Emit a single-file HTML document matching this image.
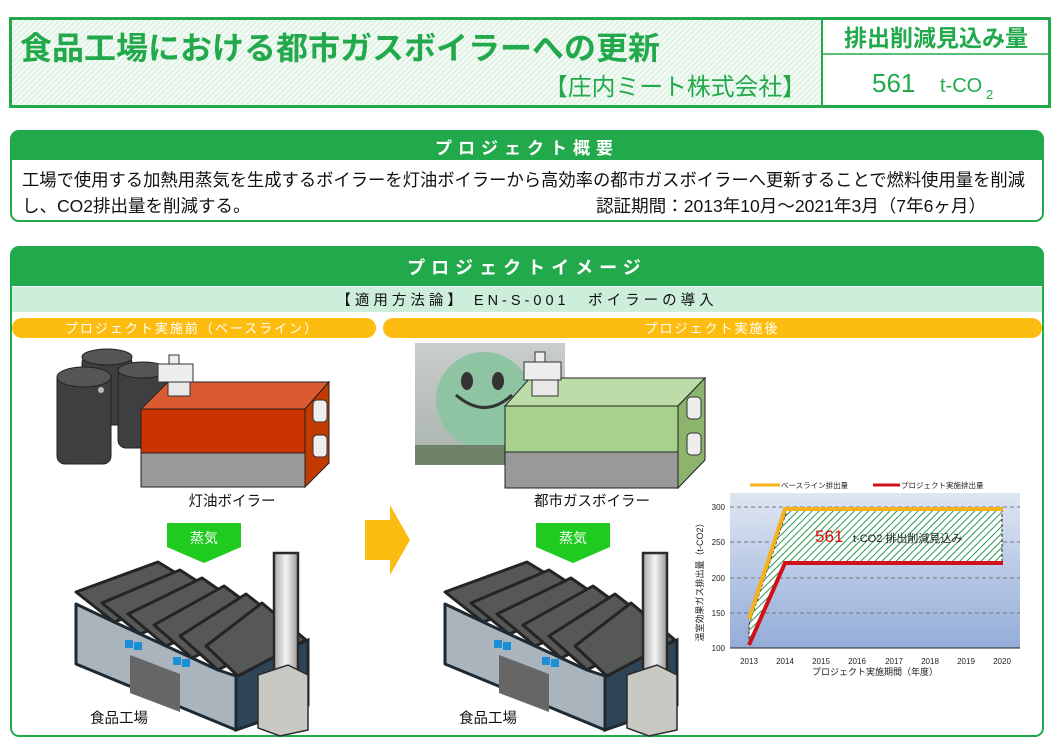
<!DOCTYPE html>
<html><head><meta charset="utf-8"><style>
body{margin:0;width:1058px;height:755px;background:#fff;font-family:"Liberation Sans","Noto Sans CJK JP",sans-serif;position:relative;overflow:hidden}
.a{position:absolute}
</style></head><body>
<svg class="a" style="left:0;top:0" width="1058" height="755" xmlns="http://www.w3.org/2000/svg" font-family="Liberation Sans, Noto Sans CJK JP, sans-serif">
<defs>
<pattern id="h1" width="4" height="4" patternUnits="userSpaceOnUse" patternTransform="rotate(45)"><rect width="4" height="4" fill="#f2faf4"/><line x1="0" y1="0" x2="0" y2="4" stroke="#c8e6cf" stroke-width="1.4"/></pattern>
<pattern id="h2" width="5" height="5" patternUnits="userSpaceOnUse" patternTransform="rotate(45)"><rect width="5" height="5" fill="#ffffff"/><line x1="0" y1="0" x2="0" y2="5" stroke="#2a9a50" stroke-width="2"/></pattern>
<linearGradient id="pl" x1="0" y1="0" x2="0" y2="1"><stop offset="0" stop-color="#dfe6f2"/><stop offset="1" stop-color="#93acd8"/></linearGradient>
<linearGradient id="ph" x1="0" y1="0" x2="0" y2="1"><stop offset="0" stop-color="#c9cdcc"/><stop offset="1" stop-color="#a9b3ad"/></linearGradient>
<linearGradient id="ch" x1="0" x2="1"><stop offset="0" stop-color="#aaa"/><stop offset=".5" stop-color="#f4f4f4"/><stop offset="1" stop-color="#999"/></linearGradient>
<g id="fac">
<polygon points="236,672 308,640 308,705 236,730" fill="#2f4555" stroke="#1e2a33" stroke-width="3"/>
<g fill="#555857" stroke="#242424" stroke-width="3" stroke-linejoin="round">
<polygon points="76,592 158,562 204,590 114,622"/>
<polygon points="102,603 180,570 226,600 140,634"/>
<polygon points="128,614 202,578 248,610 166,646"/>
<polygon points="154,625 224,586 270,620 192,658"/>
<polygon points="180,636 246,594 292,630 218,670"/>
<polygon points="206,646 262,603 306,640 238,676"/>
</g>
<polygon points="76,604 114,622 140,634 166,646 192,658 218,670 236,676 236,730 76,664" fill="#a9b4bd" stroke="#1e2a33" stroke-width="3" stroke-linejoin="round"/>
<rect x="125" y="640" width="8" height="8" fill="#1b8ed8"/><rect x="134" y="642" width="8" height="8" fill="#1b8ed8"/>
<rect x="173" y="657" width="8" height="8" fill="#1b8ed8"/><rect x="182" y="659" width="8" height="8" fill="#1b8ed8"/>
<polygon points="130,655 180,674 180,712 130,693" fill="#666"/>
<rect x="274" y="553" width="24" height="130" fill="url(#ch)" stroke="#2b2b2b" stroke-width="2.5"/>
<polygon points="258,675 288,665 308,675 308,730 280,736 258,728" fill="#c9c9c3" stroke="#2b2b2b" stroke-width="1.5"/>
</g>
</defs>
<!-- header -->
<rect x="10.5" y="18.5" width="1039" height="88" fill="url(#h1)"/>
<rect x="822" y="18" width="227" height="88" fill="#fff"/>
<line x1="822" y1="18" x2="822" y2="106" stroke="#22a94b" stroke-width="2"/>
<line x1="822" y1="54" x2="1049" y2="54" stroke="#22a94b" stroke-width="1.5"/>
<rect x="10.5" y="18.5" width="1039" height="88" fill="none" stroke="#22a94b" stroke-width="3"/>
<text x="20" y="59" font-size="31.5" font-weight="bold" fill="#22a94b" textLength="640" lengthAdjust="spacingAndGlyphs">食品工場における都市ガスボイラーへの更新</text>
<text x="544" y="95" font-size="24" fill="#22a94b" textLength="262" lengthAdjust="spacingAndGlyphs">【庄内ミート株式会社】</text>
<text x="936" y="46" font-size="23" font-weight="bold" fill="#22a94b" text-anchor="middle">排出削減見込み量</text>
<text x="872" y="92" font-size="26" fill="#22a94b">561</text><text x="940" y="92" font-size="20" fill="#22a94b">t-CO</text><text x="986" y="99" font-size="13" fill="#22a94b">2</text>
<!-- overview -->
<rect x="11" y="131" width="1032" height="90" rx="8" fill="#fff" stroke="#22a94b" stroke-width="2"/>
<path d="M11,160 V139 a8,8 0 0 1 8,-8 H1035 a8,8 0 0 1 8,8 V160 Z" fill="#22a94b"/>
<text x="527" y="154" font-size="17" font-weight="bold" fill="#fff" text-anchor="middle" letter-spacing="6">プロジェクト概要</text>
<text x="22" y="186" font-size="17.5" fill="#111" textLength="1003" lengthAdjust="spacingAndGlyphs">工場で使用する加熱用蒸気を生成するボイラーを灯油ボイラーから高効率の都市ガスボイラーへ更新することで燃料使用量を削減</text>
<text x="22" y="212" font-size="17.5" fill="#111">し、CO2排出量を削減する。</text>
<text x="596" y="212" font-size="17.5" fill="#111" textLength="390" lengthAdjust="spacingAndGlyphs">認証期間：2013年10月～2021年3月（7年6ヶ月）</text>
<!-- image box -->
<rect x="11" y="247" width="1032" height="489" rx="8" fill="#fff" stroke="#22a94b" stroke-width="2"/>
<path d="M11,286 V255 a8,8 0 0 1 8,-8 H1035 a8,8 0 0 1 8,8 V286 Z" fill="#22a94b"/>
<text x="527" y="274" font-size="18" font-weight="bold" fill="#fff" text-anchor="middle" letter-spacing="6">プロジェクトイメージ</text>
<rect x="12" y="287" width="1030" height="25" fill="#cdeeda"/>
<text x="527" y="305" font-size="14.5" fill="#111" text-anchor="middle" letter-spacing="4">【適用方法論】 EN-S-001　ボイラーの導入</text>
<rect x="12" y="318" width="364" height="20" rx="10" fill="#fdbd10"/>
<rect x="383" y="318" width="659" height="20" rx="10" fill="#fdbd10"/>
<text x="192" y="333" font-size="13" fill="#fff" text-anchor="middle" letter-spacing="2">プロジェクト実施前（ベースライン）</text>
<text x="712" y="333" font-size="13" fill="#fff" text-anchor="middle" letter-spacing="2">プロジェクト実施後</text>
<!-- drums -->
<g fill="#3d3f41" stroke="#222" stroke-width="1">
<rect x="82" y="355" width="50" height="70" rx="8"/><ellipse cx="107" cy="357" rx="25" ry="8" fill="#555"/>
<rect x="118" y="368" width="50" height="80" rx="8"/><ellipse cx="143" cy="370" rx="25" ry="8" fill="#555"/>
<rect x="57" y="372" width="54" height="92" rx="8"/><ellipse cx="84" cy="377" rx="27" ry="10" fill="#555"/>
</g>
<circle cx="101" cy="390" r="3" fill="#bbb"/>
<!-- red boiler -->
<polygon points="141,409 168,382 329,382 305,409" fill="#db5a30" stroke="#222"/>
<polygon points="305,409 329,382 329,463 305,487" fill="#c23a00" stroke="#222"/>
<rect x="141" y="409" width="164" height="44" fill="#cc3300" stroke="#222"/>
<rect x="141" y="453" width="164" height="34" fill="#999" stroke="#222"/>
<rect x="313" y="400" width="14" height="22" rx="4" fill="#eee" stroke="#333"/><rect x="313" y="435" width="14" height="22" rx="4" fill="#eee" stroke="#333"/>
<rect x="168" y="368" width="22" height="28" fill="#e8e8e8" stroke="#333"/>
<rect x="158" y="364" width="35" height="18" fill="#eee" stroke="#333"/><rect x="169" y="355" width="10" height="9" fill="#eee" stroke="#333"/>
<text x="232" y="506" font-size="14.5" fill="#111" text-anchor="middle">灯油ボイラー</text>
<!-- steam arrows -->
<polygon points="167,523 241,523 241,547 204,563 167,547" fill="#1ecb1e"/>
<text x="204" y="543" font-size="14" fill="#fff" text-anchor="middle">蒸気</text>
<polygon points="536,523 610,523 610,547 573,563 536,547" fill="#1ecb1e"/>
<text x="573" y="543" font-size="14" fill="#fff" text-anchor="middle">蒸気</text>
<!-- big arrow -->
<polygon points="365,520 390,520 390,505 410,540 390,575 390,560 365,560" fill="#fdbd10"/>
<use href="#fac"/>
<use href="#fac" transform="translate(369,0)"/>
<text x="90" y="723" font-size="14.5" fill="#111">食品工場</text>
<text x="459" y="723" font-size="14.5" fill="#111">食品工場</text>
<!-- photo -->
<rect x="415" y="343" width="150" height="122" fill="url(#ph)"/>
<circle cx="484" cy="400" r="48" fill="#8fc4a2"/>
<ellipse cx="467" cy="381" rx="6" ry="9" fill="#333"/><ellipse cx="498" cy="381" rx="6" ry="9" fill="#333"/>
<path d="M456,395 Q485,420 512,395" stroke="#333" stroke-width="3" fill="none"/>
<rect x="415" y="445" width="150" height="20" fill="#6d8268"/>
<!-- green boiler -->
<polygon points="505,406 530,378 705,378 678,406" fill="#bcdca8" stroke="#222"/>
<polygon points="678,406 705,378 705,460 678,488" fill="#8cb46c" stroke="#222"/>
<rect x="505" y="406" width="173" height="46" fill="#a8d18e" stroke="#222"/>
<rect x="505" y="452" width="173" height="36" fill="#999" stroke="#222"/>
<rect x="687" y="397" width="14" height="22" rx="4" fill="#eee" stroke="#333"/><rect x="687" y="433" width="14" height="22" rx="4" fill="#eee" stroke="#333"/>
<rect x="532" y="368" width="26" height="28" fill="#e8e8e8" stroke="#333"/>
<rect x="524" y="362" width="37" height="18" fill="#eee" stroke="#333"/><rect x="535" y="352" width="10" height="10" fill="#eee" stroke="#333"/>
<text x="592" y="506" font-size="14.5" fill="#111" text-anchor="middle">都市ガスボイラー</text>
<!-- chart -->
<rect x="730" y="493" width="290" height="155" fill="url(#pl)"/>
<g stroke="#777" stroke-dasharray="4,3" stroke-width="1"><line x1="730" y1="507" x2="1020" y2="507"/><line x1="730" y1="542" x2="1020" y2="542"/><line x1="730" y1="578" x2="1020" y2="578"/><line x1="730" y1="613" x2="1020" y2="613"/></g>
<line x1="730" y1="648" x2="1020" y2="648" stroke="#222"/>
<polygon points="749,625 787,510 1002,510 1002,562 787,562 749,645" fill="url(#h2)" stroke="#222" stroke-dasharray="3,2"/>
<polyline points="749,619 785,509 1003,509" fill="none" stroke="#f5b21a" stroke-width="4"/>
<polyline points="749,645 785,563 1003,563" fill="none" stroke="#d0101a" stroke-width="4"/>
<text x="815" y="542" font-size="17" fill="#e01010">561</text>
<text x="853" y="542" font-size="11" fill="#222">t-CO2  排出削減見込み</text>
<g font-size="8" fill="#222" text-anchor="end"><text x="725" y="510">300</text><text x="725" y="545">250</text><text x="725" y="581">200</text><text x="725" y="616">150</text><text x="725" y="651">100</text></g>
<g font-size="8" fill="#222" text-anchor="middle"><text x="749" y="664">2013</text><text x="785" y="664">2014</text><text x="821" y="664">2015</text><text x="857" y="664">2016</text><text x="894" y="664">2017</text><text x="930" y="664">2018</text><text x="966" y="664">2019</text><text x="1002" y="664">2020</text></g>
<text x="875" y="675" font-size="9" fill="#222" text-anchor="middle">プロジェクト実施期間（年度）</text>
<text transform="translate(703,580) rotate(-90)" font-size="9" fill="#222" text-anchor="middle">温室効果ガス排出量（t-CO2）</text>
<line x1="750" y1="485" x2="780" y2="485" stroke="#f5b21a" stroke-width="3"/><text x="781" y="488" font-size="7.5" fill="#222">ベースライン排出量</text>
<line x1="873" y1="485" x2="900" y2="485" stroke="#d0101a" stroke-width="3"/><text x="901" y="488" font-size="7.5" fill="#222">プロジェクト実施排出量</text>
</svg>
</body></html>
